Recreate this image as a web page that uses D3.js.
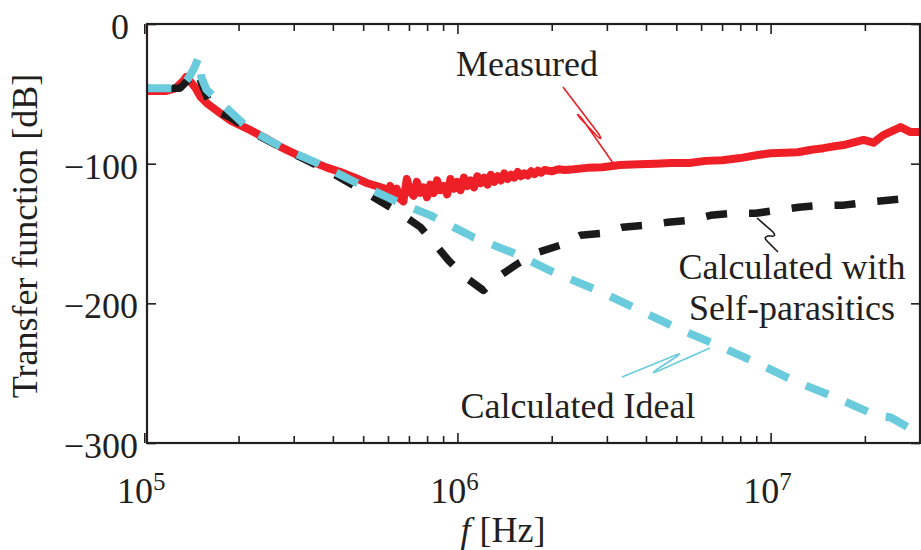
<!DOCTYPE html>
<html>
<head>
<meta charset="utf-8">
<script src="https://cdn.jsdelivr.net/npm/d3@7"></script>
<style>
  html, body { margin: 0; padding: 0; background: #fff; }
  svg text { font-family: "Liberation Serif", "DejaVu Serif", serif; fill: #231f20; }
</style>
</head>
<body>
<div id="chart"></div>
<script>
// Data (frequency in Hz, transfer function in dB)
const measFreq = [1.02e5, 1.17e5, 1.26e5, 1.33e5, 1.36e5, 1.4e5, 1.46e5, 1.51e5, 1.59e5, 1.75e5, 1.88e5, 2.18e5, 2.45e5, 2.72e5, 3.1e5, 3.47e5, 3.85e5, 4.23e5, 4.7e5, 5.16e5,
  5.80e5, 5.95e5, 6.10e5, 6.25e5, 6.40e5, 6.56e5, 6.72e5, 6.89e5, 7.06e5, 7.24e5, 7.42e5, 7.61e5, 7.80e5, 7.99e5, 8.19e5, 8.40e5, 8.61e5, 8.82e5, 9.04e5, 9.27e5,
  9.50e5, 9.74e5, 9.98e5, 1.023e6, 1.049e6, 1.075e6, 1.102e6, 1.130e6, 1.158e6, 1.187e6, 1.217e6, 1.247e6, 1.278e6, 1.310e6, 1.343e6, 1.377e6, 1.411e6, 1.446e6, 1.482e6, 1.519e6,
  1.557e6, 1.596e6, 1.636e6, 1.677e6, 1.719e6, 1.762e6, 1.806e6, 1.851e6, 1.897e6, 2.0e6, 2.1e6, 2.2e6, 2.35e6, 2.6e6, 2.9e6, 3.3e6, 3.8e6, 4.3e6, 4.8e6, 5.5e6,
  6.2e6, 7e6, 8e6, 9e6, 1.0e7, 1.22e7, 1.35e7, 1.476e7, 1.6e7, 1.71e7, 1.98e7, 2.13e7, 2.29e7, 2.6e7, 2.8e7, 3e7];
const measDb = [-48, -48, -46, -41, -38, -41, -46, -52, -57, -64, -69, -76, -82, -88, -94, -99, -103, -106, -110, -114,
  -117.5, -121, -116, -122, -118, -125, -127, -111, -120, -123, -113, -121, -117, -124, -115, -121, -112, -119, -116, -122,
  -111, -118, -113, -119, -110, -116, -112, -117, -109, -114, -110, -115, -108, -113, -109, -112, -107, -111, -108, -110,
  -106, -109, -107, -108.5, -105.5, -107.5, -105, -106.5, -104.5, -105.5, -104, -104.5, -104, -103, -102.5, -101, -100.5, -100, -99.6, -99.5,
  -98, -97.5, -96, -94, -92.5, -91.8, -90, -88.9, -87.5, -86.7, -83, -85, -79.6, -73.8, -77.4, -77.4];

const selfFreq = [1.02e5, 1.3e5, 1.38e5, 1.48e5, 1.52e5, 1.65e5, 1.88e5, 2.23e5, 2.93e5, 3.93e5, 5.27e5, 6.57e5, 7.62e5, 8.38e5, 9.36e5, 1.061e6, 1.21e6, 1.372e6, 1.566e6, 1.815e6, 2.13e6, 2.47e6, 2.91e6, 3.37e6, 4.05e6, 4.69e6, 5.55e6, 6.43e6, 7.62e6, 8.96e6, 1.06e7, 1.23e7, 1.466e7, 1.71e7, 2.04e7, 2.37e7, 3e7];
const selfDb = [-46, -46, -40, -33, -42, -61.6, -66.7, -78, -91.8, -106, -122.6, -135.5, -145.5, -156.3, -169.2, -181.4, -190.7, -180, -171.3, -163.4, -158.4, -151.3, -149.8, -145.5, -144, -142, -140.5, -137, -135.5, -135.5, -133.3, -131.2, -129.7, -129.7, -127.6, -126.2, -124];

const idealFreq = [1.02e5, 1.3e5, 1.38e5, 1.44e5, 1.49e5, 1.52e5, 1.58e5, 1.71e5, 2.18e5, 2.86e5, 3.57e5, 4.79e5, 6.57e5, 8.2e5, 1.125e6, 1.51e6, 2.03e6, 2.8e6, 3.65e6, 5.05e6, 6.77e6, 9.09e6, 1.22e7, 1.64e7, 2.17e7, 2.42e7, 3e7];
const idealDb = [-46, -46, -39, -32, -24, -38, -47, -54, -76, -90.3, -99.6, -114, -128.3, -137, -152.7, -164, -177.8, -190.7, -202.9, -218, -230, -243, -256.6, -268, -280.3, -281.7, -293.5];

const yTicks = [0, -100, -200, -300];
const xMajor = [1e5, 1e6, 1e7];
const xMinor = [2e5, 3e5, 4e5, 5e5, 6e5, 7e5, 8e5, 9e5, 2e6, 3e6, 4e6, 5e6, 6e6, 7e6, 8e6, 9e6, 2e7];
const xExp = ["5", "6", "7"];

const W = 921, H = 550;
const plotL = 147, plotR = 920, plotT = 24, plotB = 443;

const svg = d3.select("#chart").append("svg")
    .attr("width", W)
    .attr("height", H);

const x = d3.scaleLog().domain([1.02e5, 3e7]).range([plotL, plotR]);
const y = d3.scaleLinear().domain([-300, 0]).range([plotB, plotT]);

svg.append("clipPath").attr("id", "plotclip")
  .append("rect")
    .attr("x", plotL).attr("y", plotT)
    .attr("width", plotR - plotL).attr("height", plotB - plotT);

const line = d3.line().x(d => x(d[0])).y(d => y(d[1])).curve(d3.curveLinear);
const plot = svg.append("g").attr("clip-path", "url(#plotclip)");

// Measured (solid red)
plot.append("path")
    .datum(d3.zip(measFreq, measDb))
    .attr("d", line)
    .attr("fill", "none")
    .attr("stroke", "#ee1f26")
    .attr("stroke-width", 8)
    .attr("stroke-linejoin", "round")
    .attr("stroke-linecap", "round");

// Calculated with self-parasitics (black dashed)
plot.append("path")
    .datum(d3.zip(selfFreq, selfDb))
    .attr("d", line)
    .attr("fill", "none")
    .attr("stroke", "#1a1a1a")
    .attr("stroke-width", 7.5)
    .attr("stroke-dasharray", "21 22")
    .attr("stroke-dashoffset", 18)
    .attr("stroke-linejoin", "round");

// Calculated ideal (cyan dashed)
plot.append("path")
    .datum(d3.zip(idealFreq, idealDb))
    .attr("d", line)
    .attr("fill", "none")
    .attr("stroke", "#6acbdc")
    .attr("stroke-width", 8)
    .attr("stroke-dasharray", "24 19")
    .attr("stroke-linejoin", "round");

// Frame
svg.append("rect")
    .attr("x", plotL).attr("y", plotT)
    .attr("width", plotR - plotL).attr("height", plotB - plotT)
    .attr("fill", "none")
    .attr("stroke", "#231f20")
    .attr("stroke-width", 2.2);

// Ticks (inward)
function tickAxis(axis, tr, size, values) {
  const g = svg.append("g")
      .attr("transform", tr)
      .call(axis.tickValues(values).tickSize(size).tickFormat(""));
  g.select(".domain").remove();
  g.selectAll(".tick line").attr("stroke", "#231f20").attr("stroke-width", 1.6);
}
tickAxis(d3.axisBottom(x), `translate(0,${plotB})`, -7, xMinor);
tickAxis(d3.axisBottom(x), `translate(0,${plotB})`, -10, xMajor);
tickAxis(d3.axisTop(x), `translate(0,${plotT})`, -7, xMinor);
tickAxis(d3.axisTop(x), `translate(0,${plotT})`, -10, xMajor);
tickAxis(d3.axisLeft(y), `translate(${plotL},0)`, -9, yTicks);
tickAxis(d3.axisRight(y), `translate(${plotR},0)`, -9, yTicks);

// Y tick labels
svg.selectAll(".ylab")
  .data(yTicks)
  .join("text")
    .attr("class", "ylab")
    .attr("x", d => d === 0 ? 129 : 138)
    .attr("y", d => y(d) + 15)
    .attr("text-anchor", "end")
    .attr("font-size", 36)
    .text(d => d === 0 ? "0" : "\u2212" + Math.abs(d));

// X tick labels 10^n
const xl = svg.selectAll(".xlab")
  .data(xMajor)
  .join("text")
    .attr("class", "xlab")
    .attr("x", d => x(d) - 3)
    .attr("y", 503)
    .attr("text-anchor", "middle")
    .attr("font-size", 36);
xl.append("tspan").text("10");
xl.append("tspan")
    .attr("font-size", 25)
    .attr("dy", -13)
    .text((d, i) => xExp[i]);

// Axis titles
svg.append("text")
    .attr("transform", `translate(37,236) rotate(-90)`)
    .attr("text-anchor", "middle")
    .attr("font-size", 36)
    .text("Transfer function [dB]");

const xt = svg.append("text")
    .attr("x", 503)
    .attr("y", 542)
    .attr("text-anchor", "middle")
    .attr("font-size", 36);
xt.append("tspan").attr("font-style", "italic").text("f");
xt.append("tspan").text(" [Hz]");

// Annotations
svg.append("text").attr("x", 456).attr("y", 76).attr("font-size", 36).text("Measured");
svg.append("text").attr("x", 792).attr("y", 279).attr("text-anchor", "middle").attr("font-size", 36).text("Calculated with");
svg.append("text").attr("x", 792).attr("y", 320).attr("text-anchor", "middle").attr("font-size", 36).text("Self-parasitics");
svg.append("text").attr("x", 578).attr("y", 418).attr("text-anchor", "middle").attr("font-size", 36).text("Calculated Ideal");

// Squiggle leader lines
svg.append("path")
    .attr("d", "M563,87 L598,133 Q604,142 597,136 L580,118 Q574,110 583,120 L613,163")
    .attr("fill", "none").attr("stroke", "#ee1f26").attr("stroke-width", 1.6);
svg.append("path")
    .attr("d", "M757,218 L773,232 Q777,237 771,236 L768,236 Q763,237 767,241 L778,252")
    .attr("fill", "none").attr("stroke", "#1a1a1a").attr("stroke-width", 1.6);
svg.append("path")
    .attr("d", "M622,377 L676,355 Q683,352 676,357 L656,370 Q650,375 658,371 L710,348")
    .attr("fill", "none").attr("stroke", "#6acbdc").attr("stroke-width", 1.6);
</script>
</body>
</html>
